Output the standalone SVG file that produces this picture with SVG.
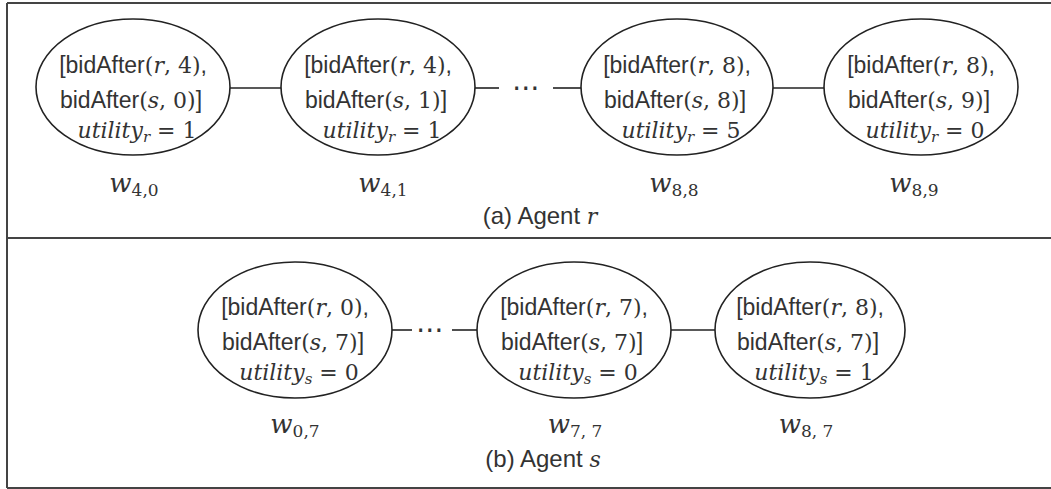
<svg xmlns="http://www.w3.org/2000/svg" width="1051" height="489" viewBox="0 0 1051 489">
<style>
.frame{stroke:#444;stroke-width:2;fill:none}
.node{fill:#fff;stroke:#222;stroke-width:1.6}
.edge{stroke:#222;stroke-width:1.6;fill:none}
.t{font-family:"Liberation Sans",Arial,sans-serif;font-size:23px;fill:#333;text-anchor:middle}
.m{font-family:"DejaVu Serif","Liberation Serif",serif;font-size:22px}
.mi{font-family:"DejaVu Serif","Liberation Serif",serif;font-size:22px;font-style:italic}
.sub{font-family:"DejaVu Serif","Liberation Serif",serif;font-size:15px;font-style:italic}
.w{font-family:"DejaVu Serif","Liberation Serif",serif;font-size:26px;font-style:italic;fill:#333;text-anchor:middle}
.ws{font-size:17px;font-style:normal}
.cap{font-family:"Liberation Sans",Arial,sans-serif;font-size:24px;fill:#333;text-anchor:middle}
.dots{font-family:"DejaVu Sans",sans-serif;font-size:28px;fill:#333;text-anchor:middle}
</style>
<g id="frame">
<line class="frame" x1="7" y1="3" x2="7" y2="488"/>
<line class="frame" x1="7" y1="3" x2="1051" y2="3"/>
<line class="frame" x1="7" y1="238" x2="1051" y2="238"/>
<line class="frame" x1="7" y1="488" x2="1051" y2="488"/>
</g>
<g id="connectors">
<line class="edge" x1="230" y1="88" x2="282" y2="88"/>
<line class="edge" x1="475" y1="88" x2="499" y2="88"/>
<text class="dots" x="526" y="97">⋯</text>
<line class="edge" x1="553" y1="88" x2="582" y2="88"/>
<line class="edge" x1="773" y1="88" x2="824" y2="88"/>
<line class="edge" x1="391" y1="330" x2="412" y2="330"/>
<text class="dots" x="430" y="339">⋯</text>
<line class="edge" x1="452" y1="330" x2="477" y2="330"/>
<line class="edge" x1="670" y1="330" x2="715" y2="330"/>
</g>
<g id="n_w40">
<ellipse class="node" cx="133" cy="87" rx="97" ry="68"/>
<text class="t" x="133" y="73">[bidAfter<tspan class="m">(</tspan><tspan class="mi">r</tspan><tspan class="m">, 4)</tspan>,</text>
<text class="t" x="131" y="108">bidAfter<tspan class="m">(</tspan><tspan class="mi">s</tspan><tspan class="m">, 0)</tspan>]</text>
<text class="t" x="137" y="138"><tspan class="mi">utility</tspan><tspan class="sub" dy="4">r</tspan><tspan class="m" dy="-4"> = 1</tspan></text>
<text class="w" x="134" y="192">w<tspan class="ws" dy="4">4,0</tspan></text>
</g>
<g id="n_w41">
<ellipse class="node" cx="378" cy="87" rx="97" ry="68"/>
<text class="t" x="378" y="73">[bidAfter<tspan class="m">(</tspan><tspan class="mi">r</tspan><tspan class="m">, 4)</tspan>,</text>
<text class="t" x="376" y="108">bidAfter<tspan class="m">(</tspan><tspan class="mi">s</tspan><tspan class="m">, 1)</tspan>]</text>
<text class="t" x="382" y="138"><tspan class="mi">utility</tspan><tspan class="sub" dy="4">r</tspan><tspan class="m" dy="-4"> = 1</tspan></text>
<text class="w" x="383" y="192">w<tspan class="ws" dy="4">4,1</tspan></text>
</g>
<g id="n_w88">
<ellipse class="node" cx="677" cy="87" rx="96" ry="68"/>
<text class="t" x="677" y="73">[bidAfter<tspan class="m">(</tspan><tspan class="mi">r</tspan><tspan class="m">, 8)</tspan>,</text>
<text class="t" x="675" y="108">bidAfter<tspan class="m">(</tspan><tspan class="mi">s</tspan><tspan class="m">, 8)</tspan>]</text>
<text class="t" x="681" y="138"><tspan class="mi">utility</tspan><tspan class="sub" dy="4">r</tspan><tspan class="m" dy="-4"> = 5</tspan></text>
<text class="w" x="674" y="192">w<tspan class="ws" dy="4">8,8</tspan></text>
</g>
<g id="n_w89">
<ellipse class="node" cx="921" cy="87" rx="97" ry="68"/>
<text class="t" x="921" y="73">[bidAfter<tspan class="m">(</tspan><tspan class="mi">r</tspan><tspan class="m">, 8)</tspan>,</text>
<text class="t" x="919" y="108">bidAfter<tspan class="m">(</tspan><tspan class="mi">s</tspan><tspan class="m">, 9)</tspan>]</text>
<text class="t" x="925" y="138"><tspan class="mi">utility</tspan><tspan class="sub" dy="4">r</tspan><tspan class="m" dy="-4"> = 0</tspan></text>
<text class="w" x="914" y="192">w<tspan class="ws" dy="4">8,9</tspan></text>
</g>
<text class="cap" x="540" y="224">(a) Agent <tspan class="mi" font-size="24">r</tspan></text>
<g id="n_w07">
<ellipse class="node" cx="295" cy="330" rx="97" ry="68"/>
<text class="t" x="295" y="315">[bidAfter<tspan class="m">(</tspan><tspan class="mi">r</tspan><tspan class="m">, 0)</tspan>,</text>
<text class="t" x="293" y="350">bidAfter<tspan class="m">(</tspan><tspan class="mi">s</tspan><tspan class="m">, 7)</tspan>]</text>
<text class="t" x="299" y="380"><tspan class="mi">utility</tspan><tspan class="sub" dy="4">s</tspan><tspan class="m" dy="-4"> = 0</tspan></text>
<text class="w" x="295" y="433">w<tspan class="ws" dy="4">0,7</tspan></text>
</g>
<g id="n_w77">
<ellipse class="node" cx="574" cy="330" rx="97" ry="68"/>
<text class="t" x="574" y="315">[bidAfter<tspan class="m">(</tspan><tspan class="mi">r</tspan><tspan class="m">, 7)</tspan>,</text>
<text class="t" x="572" y="350">bidAfter<tspan class="m">(</tspan><tspan class="mi">s</tspan><tspan class="m">, 7)</tspan>]</text>
<text class="t" x="578" y="380"><tspan class="mi">utility</tspan><tspan class="sub" dy="4">s</tspan><tspan class="m" dy="-4"> = 0</tspan></text>
<text class="w" x="575" y="433">w<tspan class="ws" dy="4">7, 7</tspan></text>
</g>
<g id="n_w87">
<ellipse class="node" cx="810" cy="330" rx="95" ry="68"/>
<text class="t" x="810" y="315">[bidAfter<tspan class="m">(</tspan><tspan class="mi">r</tspan><tspan class="m">, 8)</tspan>,</text>
<text class="t" x="808" y="350">bidAfter<tspan class="m">(</tspan><tspan class="mi">s</tspan><tspan class="m">, 7)</tspan>]</text>
<text class="t" x="814" y="380"><tspan class="mi">utility</tspan><tspan class="sub" dy="4">s</tspan><tspan class="m" dy="-4"> = 1</tspan></text>
<text class="w" x="806" y="433">w<tspan class="ws" dy="4">8, 7</tspan></text>
</g>
<text class="cap" x="543" y="467">(b) Agent <tspan class="mi" font-size="24">s</tspan></text>
</svg>
